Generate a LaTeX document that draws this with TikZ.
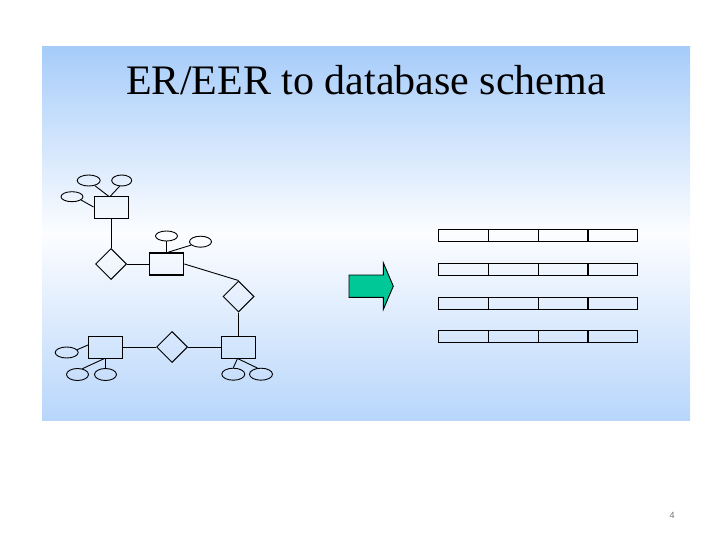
\documentclass[tikz,border=0pt]{standalone}
\usepackage{fontspec}
\setmainfont{Liberation Serif}
\newfontfamily\slidenumfont{Liberation Sans}
\usepackage{tikz}
\usetikzlibrary{
  shapes.geometric,
  calc,
}
\definecolor{panelTop}{HTML}{A6CCFA}
\definecolor{panelMid}{HTML}{FCFDFF}
\definecolor{panelBottom}{HTML}{B8D6FB}
\definecolor{arrowGreen}{HTML}{00C896}
\tikzset{
  entity/.style={
    rectangle, draw=black, line width=1pt, inner sep=0pt,
    minimum width=34pt, minimum height=22pt,
  },
  entityWeak/.style={
    entity, line width=1.8pt,
  },
  relship/.style={
    diamond, draw=black, line width=1pt, inner sep=0pt,
    minimum size=31pt, aspect=1,
  },
  attrib/.style={
    ellipse, draw=black, line width=0.9pt, inner sep=0pt,
    minimum width=22pt, minimum height=11pt,
  },
  link/.style={
    line width=0.9pt, draw=black,
  },
  linkThick/.style={
    line width=1.7pt, draw=black,
  },
  cellRow/.style={
    line width=1pt, draw=black,
  },
}

\begin{document}
\begin{tikzpicture}[x=1pt, y=-1pt]
\useasboundingbox (0,0) rectangle (720,540);

% Background panel
\shade[top color=panelTop, bottom color=panelBottom, middle color=panelMid]
   (42,47) rectangle (690,420);

% Title
\node[anchor=base, font=\fontsize{42}{48}\selectfont] (title) at (366,95)
   {ER/EER to database schema};

% Entities
\node[entity]     (ent1) at (111,208)   {};
\node[entityWeak] (ent2) at (166.5,264) {};
\node[entity]     (ent3) at (105.5,347) {};
\node[entity]     (ent4) at (238.5,347) {};

% Relationships
\node[relship] (rel1) at (111,264)   {};
\node[relship] (rel2) at (238.5,296.5) {};
\node[relship] (rel3) at (172,347)   {};

% Attributes
\node[attrib, minimum width=23pt] (att1) at (88.7,180.5) {};
\node[attrib, minimum width=20pt] (att2) at (121.7,180.5) {};
\node[attrib, minimum height=10pt] (att3) at (72,196.7) {};
\node[attrib, minimum height=10pt] (att4) at (166.5,236) {};
\node[attrib] (att5) at (200.5,241.7) {};
\node[attrib, minimum width=23pt] (att6) at (66.7,352.5) {};
\node[attrib, minimum height=12pt] (att7) at (77.5,374.5) {};
\node[attrib, minimum height=12pt] (att8) at (105.5,374.5) {};
\node[attrib, minimum width=23pt, minimum height=12pt] (att9) at (233.3,374.2) {};
\node[attrib, minimum width=23pt, minimum height=12pt] (att10) at (261,374.2) {};

% Attribute links
\draw[link] (att1.-40) -- ([xshift=-2pt]ent1.north);
\draw[link] (att2.-110) -- ([xshift=-1pt]ent1.north);
\draw[link] (att3.-20) -- ([yshift=1pt]ent1.west);
\draw[link] (att4.south) -- (ent2.north);
\draw[link] (att5.-160) -- ([xshift=2pt]ent2.north);
\draw[link] (att6.15) -- ([yshift=2pt]ent3.west);
\draw[link] ([xshift=-1pt]ent3.south) -- (att7.50);
\draw[linkThick] (ent3.south) -- (att8.north);
\draw[link] ([xshift=-1pt]ent4.south) -- (att9.north);
\draw[link] ([xshift=-1pt]ent4.south) -- (att10.120);

% Relationship links
\draw[link] (ent1.south) -- (rel1.north);
\draw[link] (rel1.east) -- (ent2.west);
\draw[link] (ent2.east) -- (rel2.north);
\draw[linkThick] (rel2.south) -- (ent4.north);
\draw[link] (ent3.east) -- (rel3.west);
\draw[link] (rel3.east) -- (ent4.east -| ent4.west);

% Mapping arrow
\draw[line width=0.9pt, fill=arrowGreen]
   (349,275) -- (383.3,275) -- (383.3,262.7) -- (393.3,286.2)
   -- (383.3,309.5) -- (383.3,297.3) -- (349,297.3) -- cycle;

% Relation schemas: 4 rows of 4 cells
\foreach \r in {0,1,2,3}
{
  \pgfmathsetmacro{\ytop}{229.5 + \r * 33.8}
  \draw[cellRow] (438.3,\ytop) rectangle (637.7,\ytop+12);
  \foreach \c in {488.3,538.3}
    \draw[link] (\c,\ytop) -- (\c,\ytop+12);
  \draw[linkThick] (588.3,\ytop) -- (588.3,\ytop+12);
}

% Slide number
\node[font=\slidenumfont\fontsize{9}{10}\selectfont, text=black!55]
   (pagenum) at (672,515) {4};

\end{tikzpicture}
\end{document}
